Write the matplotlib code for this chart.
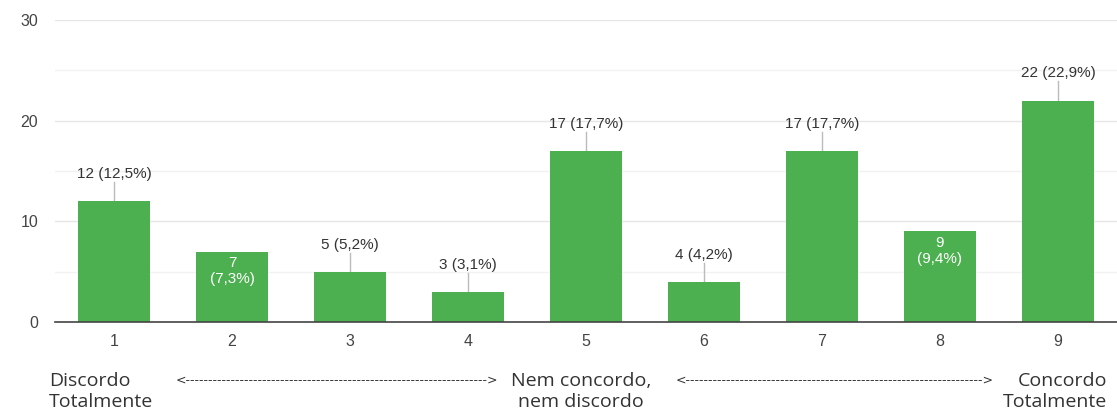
import matplotlib.pyplot as plt
from matplotlib.ticker import MultipleLocator

# survey answers on a 1-9 agreement scale
categories = ["1", "2", "3", "4", "5", "6", "7", "8", "9"]
counts = [12, 7, 5, 3, 17, 4, 17, 9, 22]
percents = ["12,5", "7,3", "5,2", "3,1", "17,7", "4,2", "17,7", "9,4", "22,9"]
inside_labels = [False, True, False, False, False, False, False, True, False]

green = "#4caf50"
label_font = ["Liberation Sans", "DejaVu Sans"]

fig = plt.figure(figsize=(11.17, 4.17), dpi=100)
ax = fig.add_axes([55 / 1117, 1 - 322 / 417, 1062 / 1117, 302 / 417])

x = range(len(categories))
ax.bar(x, counts, width=0.61, color=green, zorder=3)

ax.set_xlim(-0.5, len(categories) - 0.5)
ax.set_ylim(0, 30)
ax.yaxis.set_major_locator(MultipleLocator(10))
ax.yaxis.set_minor_locator(MultipleLocator(5))
ax.grid(axis="y", which="major", color="#e6e6e6", lw=1, zorder=0)
ax.grid(axis="y", which="minor", color="#f2f2f2", lw=1, zorder=0)
for s in ["top", "right", "left"]:
    ax.spines[s].set_visible(False)
ax.spines["bottom"].set_color("#444444")
ax.spines["bottom"].set_linewidth(1.2)
ax.spines["bottom"].set_zorder(4)
ax.tick_params(axis="both", which="both", length=0, colors="#444444", labelsize=11.5)
ax.tick_params(axis="y", pad=12)
ax.tick_params(axis="x", pad=9)
ax.set_xticks(list(x))
ax.set_xticklabels(categories)
for lab in ax.get_xticklabels() + ax.get_yticklabels():
    lab.set_family(label_font)

# value labels: leader line + text above, or white text inside the bar
for i, (c, p, inside) in enumerate(zip(counts, percents, inside_labels)):
    if inside:
        ax.text(i, c - 0.45, f"{c}\n({p}%)", ha="center", va="top", color="white",
                fontsize=11, family=label_font, linespacing=1.2, zorder=5)
    else:
        ax.plot([i, i], [c, c + 1.9], color="#bbbbbb", lw=1, zorder=2)
        ax.text(i, c + 2.0, f"{c} ({p}%)", ha="center", va="bottom", color="#333333",
                fontsize=11, family=label_font, zorder=5)

# scale descriptions under the axis
trans = ax.get_xaxis_transform()
ty = -0.165
kw = dict(transform=trans, va="top", fontsize=14, color="#333333",
          family=["Open Sans", "DejaVu Sans"], linespacing=1.22, clip_on=False)
ax.text(-0.55, ty, "Discordo\nTotalmente", ha="left", **kw)
ax.text(3.96, ty, "Nem concordo,\nnem discordo", ha="center", **kw)
ax.text(8.415, ty, "Concordo\nTotalmente", ha="right", **kw)
arrow_kw = dict(transform=trans, va="top", fontsize=9, color="#333333",
                family="DejaVu Sans", clip_on=False)
ax.text(1.89, ty - 0.005, "<" + "-" * 67 + ">", ha="center", **arrow_kw)
ax.text(6.11, ty - 0.005, "<" + "-" * 66 + ">", ha="center", **arrow_kw)

fig.savefig("out.png", dpi=100)
